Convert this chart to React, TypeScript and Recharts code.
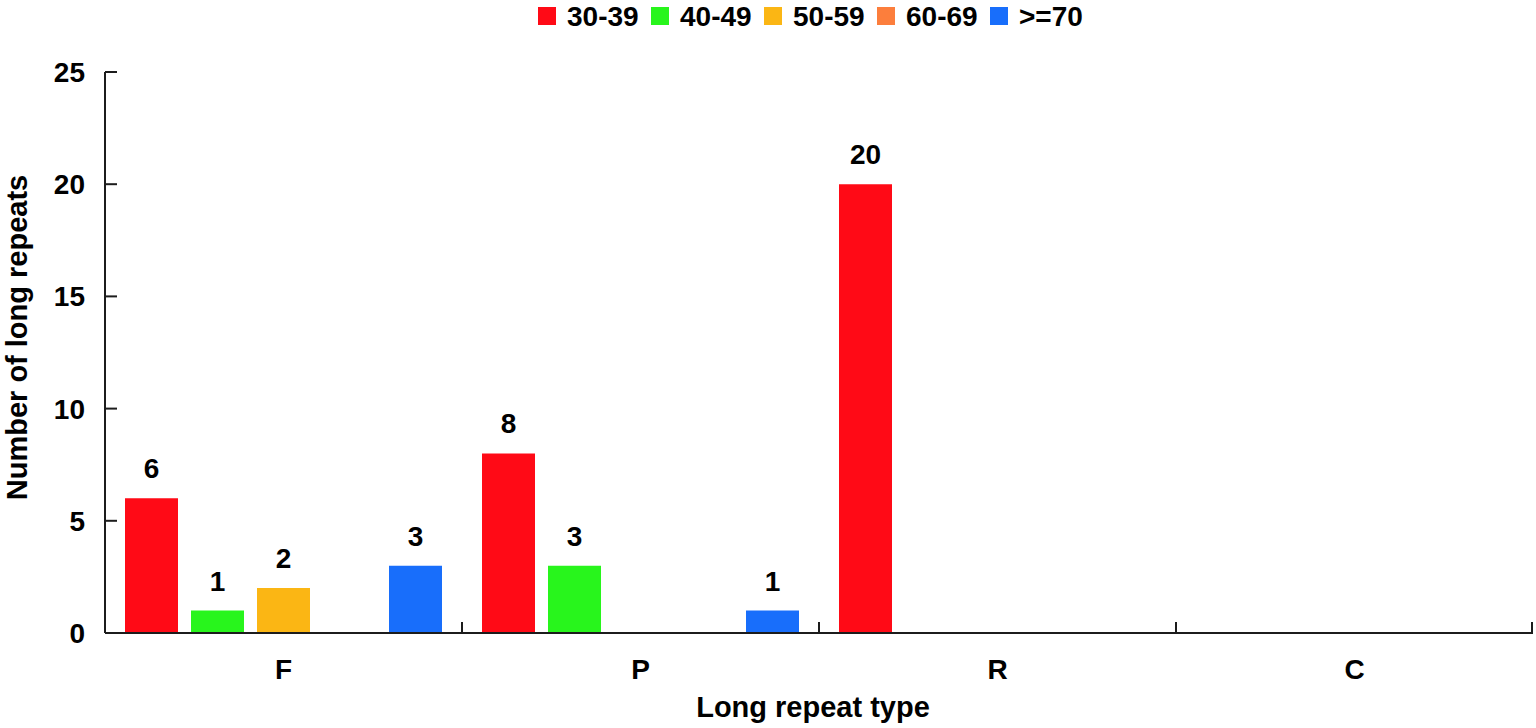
import React from 'react'
import { BarChart, Bar, XAxis, YAxis, Legend, LabelList, Label } from 'recharts'

const categories = ['F', 'P', 'R', 'C']
const seriesNames = ['30-39', '40-49', '50-59', '60-69', '>=70']
const seriesKeys = ['s30', 's40', 's50', 's60', 's70']
const seriesColors = ['#FF0A16', '#28F51C', '#FBB614', '#FC7E3C', '#186EFB']

const counts30to39 = [6, 8, 20, 0]
const counts40to49 = [1, 3, 0, 0]
const counts50to59 = [2, 0, 0, 0]
const counts60to69 = [0, 0, 0, 0]
const counts70plus = [3, 1, 0, 0]

const yTicks = [0, 5, 10, 15, 20, 25]

const seriesValues = [counts30to39, counts40to49, counts50to59, counts60to69, counts70plus]

const data = categories.map((type, i) => {
  const row: Record<string, string | number> = { type }
  seriesKeys.forEach((k, s) => { row[k] = seriesValues[s][i] })
  return row
})

const W = 1536
const H = 728
const Y_AXIS_W = 105
const X_AXIS_H = 95
const RIGHT = 3
const FONT = '"Liberation Sans", Arial, Helvetica, sans-serif'
const AXIS = '#1c1c1c'
const band = (W - Y_AXIS_W - RIGHT) / categories.length

function XTick(props: any) {
  const { x, y, payload, index } = props
  const last = index === categories.length - 1
  return (
    <g>
      <line x1={x - band / 2} x2={x - band / 2} y1={y} y2={y - 11} stroke={AXIS} strokeWidth={2} />
      {last && <line x1={x + band / 2 - 1} x2={x + band / 2 - 1} y1={y} y2={y - 11} stroke={AXIS} strokeWidth={2} />}
      <text x={x} y={y + 46} textAnchor="middle" fontFamily={FONT} fontWeight="bold" fontSize={28} fill="#000">
        {payload.value}
      </text>
    </g>
  )
}

function YTick(props: any) {
  const { x, y, payload } = props
  return (
    <g>
      <line x1={x} x2={x + 12} y1={y} y2={y} stroke={AXIS} strokeWidth={2} />
      <text x={x - 20} y={y + 10} textAnchor="end" fontFamily={FONT} fontWeight="bold" fontSize={28} fill="#000">
        {payload.value}
      </text>
    </g>
  )
}

function BarValue(props: any) {
  const { x, y, width, value } = props
  if (!value) return null
  return (
    <text x={x + width / 2} y={y - 20} textAnchor="middle" fontFamily={FONT} fontWeight="bold" fontSize={28} fill="#000">
      {value}
    </text>
  )
}

function TopLegend() {
  return (
    <div style={{ height: 36, display: 'flex', paddingLeft: 538, fontFamily: FONT, fontWeight: 'bold', fontSize: 28 }}>
      {seriesNames.map((name, i) => (
        <div key={name} style={{ width: 113, display: 'flex', alignItems: 'flex-start', height: 34 }}>
          <span style={{ width: 18, height: 18, background: seriesColors[i], marginRight: 11, marginTop: 7, flex: 'none' }} />
          <span style={{ lineHeight: '34px', whiteSpace: 'nowrap' }}>{name}</span>
        </div>
      ))}
    </div>
  )
}

export default function App() {
  return (
    <div style={{ position: 'absolute', left: 0, top: 0, width: W, height: H, background: '#fff' }}>
      <BarChart
        width={W}
        height={H}
        data={data}
        margin={{ top: 36, right: RIGHT, left: 0, bottom: 0 }}
        barCategoryGap={20}
        barGap={13}
      >
        <Legend verticalAlign="top" content={<TopLegend />} wrapperStyle={{ top: 0, left: 0 }} />
        <XAxis
          dataKey="type"
          height={X_AXIS_H}
          stroke={AXIS}
          strokeWidth={2}
          tickLine={false}
          tickSize={0}
          tickMargin={0}
          tick={<XTick />}
          interval={0}
        >
          <Label
            content={() => (
              <text x={813} y={717} textAnchor="middle" fontFamily={FONT} fontWeight="bold" fontSize={29} fill="#000">
                Long repeat type
              </text>
            )}
          />
        </XAxis>
        <YAxis
          width={Y_AXIS_W}
          domain={[0, 25]}
          ticks={yTicks}
          interval={0}
          stroke={AXIS}
          strokeWidth={2}
          tickLine={false}
          tickSize={0}
          tickMargin={0}
          tick={<YTick />}
        >
          <Label
            content={(p: any) => {
              const vb = p.viewBox || { y: 72, height: 561 }
              const cy = vb.y + vb.height / 2 - 15
              return (
                <text
                  x={27}
                  y={cy}
                  transform={`rotate(-90, 27, ${cy})`}
                  textAnchor="middle"
                  fontFamily={FONT}
                  fontWeight="bold"
                  fontSize={29}
                  fill="#000"
                >
                  Number of long repeats
                </text>
              )
            }}
          />
        </YAxis>
        {seriesKeys.map((k, i) => (
          <Bar key={k} dataKey={k} name={seriesNames[i]} fill={seriesColors[i]} isAnimationActive={false}>
            <LabelList dataKey={k} content={<BarValue />} />
          </Bar>
        ))}
      </BarChart>
    </div>
  )
}
